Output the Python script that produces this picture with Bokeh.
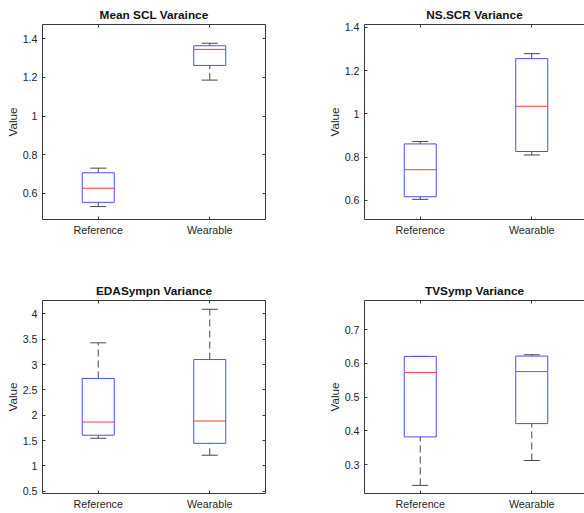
from bokeh.plotting import figure
from bokeh.layouts import row, column
from bokeh.models import Range1d, FixedTicker, LinearAxis
from bokeh.embed import file_html
from bokeh.resources import INLINE

# ---------------- data ----------------
categories = ["Reference", "Wearable"]
positions = [1, 2]

titles = ["Mean SCL Varaince", "NS.SCR Variance", "EDASympn Variance", "TVSymp Variance"]

# Mean SCL
scl_lower = [0.531, 1.186]
scl_q1 = [0.553, 1.262]
scl_med = [0.626, 1.345]
scl_q3 = [0.706, 1.364]
scl_upper = [0.730, 1.377]
scl_ylim = [0.464, 1.474]
scl_ticks = [0.6, 0.8, 1.0, 1.2, 1.4]
scl_labels = ["0.6", "0.8", "1", "1.2", "1.4"]

# NS.SCR
nsscr_lower = [0.605, 0.810]
nsscr_q1 = [0.617, 0.826]
nsscr_med = [0.742, 1.035]
nsscr_q3 = [0.861, 1.255]
nsscr_upper = [0.872, 1.278]
nsscr_ylim = [0.512, 1.4125]
nsscr_ticks = [0.6, 0.8, 1.0, 1.2, 1.4]
nsscr_labels = ["0.6", "0.8", "1", "1.2", "1.4"]

# EDASympn
eda_lower = [1.545, 1.21]
eda_q1 = [1.605, 1.445]
eda_med = [1.865, 1.885]
eda_q3 = [2.725, 3.098]
eda_upper = [3.428, 4.09]
eda_ylim = [0.455, 4.263]
eda_ticks = [0.5, 1.0, 1.5, 2.0, 2.5, 3.0, 3.5, 4.0]
eda_labels = ["0.5", "1", "1.5", "2", "2.5", "3", "3.5", "4"]

# TVSymp
tv_lower = [0.238, 0.312]
tv_q1 = [0.382, 0.4215]
tv_med = [0.573, 0.576]
tv_q3 = [0.621, 0.622]
tv_upper = [0.621, 0.626]
tv_ylim = [0.214, 0.787]
tv_ticks = [0.3, 0.4, 0.5, 0.6, 0.7]
tv_labels = ["0.3", "0.4", "0.5", "0.6", "0.7"]

# ---------------- style ----------------
FONT = "Liberation Sans"
AX_COLOR = "#3a3a3a"
TXT_COLOR = "#262626"
BOX_COLOR = "#4d4dff"
MED_COLOR = "#ff3b3b"
WHISK_COLOR = "#4a4a4a"
BOX_W = 0.287
CAP_W = 0.144
PX_PER_UNIT = 111.5


def style_axis(ax, show_labels=True):
    ax.axis_line_color = AX_COLOR
    ax.axis_line_width = 1
    ax.major_tick_line_color = AX_COLOR
    ax.major_tick_in = 3
    ax.major_tick_out = 0
    ax.minor_tick_line_color = None
    ax.major_label_text_font = FONT
    ax.major_label_text_color = TXT_COLOR
    if show_labels:
        ax.major_label_text_font_size = "10.7px"
    else:
        ax.major_label_text_font_size = "1px"
        ax.major_label_text_color = None
        ax.major_label_text_alpha = 0
        ax.major_label_standoff = 0
        ax.axis_label = None


def make_panel(title, lower, q1, med, q3, upper, ylim, yticks, ylabels, is_left, is_top):
    if is_left:
        width, mbl, mbr = 314, 42, 49
        x_end = 2.5
    else:
        width, mbl, mbr = 270, 50, 0
        x_end = 0.5 + 220 / PX_PER_UNIT
    if is_top:
        height, mbt, mbb = 256, 24, 37
    else:
        height, mbt, mbb = 257, 44, 20

    p = figure(width=width, height=height, output_backend="svg", toolbar_location=None,
               x_range=Range1d(0.5, x_end), y_range=Range1d(ylim[0], ylim[1]),
               min_border_left=mbl, min_border_right=mbr,
               min_border_top=mbt, min_border_bottom=mbb)
    p.outline_line_color = None
    p.grid.visible = False
    p.background_fill_color = "white"
    p.border_fill_color = "white"

    p.title.text = title
    p.title.align = "center"
    p.title.text_font = FONT
    p.title.text_font_size = "11.8px"
    p.title.text_font_style = "bold"
    p.title.text_color = "#111111"
    p.title.standoff = 5

    xlabel_map = {pos: cat for pos, cat in zip(positions, categories)}
    ylabel_map = {t: l for t, l in zip(yticks, ylabels)}

    p.xaxis.ticker = FixedTicker(ticks=positions)
    p.xaxis.major_label_overrides = xlabel_map
    style_axis(p.xaxis[0])
    p.xaxis.major_label_standoff = 4

    p.yaxis.ticker = FixedTicker(ticks=yticks)
    p.yaxis.major_label_overrides = ylabel_map
    style_axis(p.yaxis[0])
    p.yaxis.major_label_standoff = 5
    p.yaxis.axis_label = "Value"
    p.yaxis.axis_label_text_font = FONT
    p.yaxis.axis_label_text_font_size = "11.7px"
    p.yaxis.axis_label_text_font_style = "normal"
    p.yaxis.axis_label_text_color = TXT_COLOR
    p.yaxis.axis_label_standoff = 1

    top_ax = LinearAxis(ticker=FixedTicker(ticks=positions))
    style_axis(top_ax, show_labels=False)
    p.add_layout(top_ax, "above")
    if is_left:
        right_ax = LinearAxis(ticker=FixedTicker(ticks=yticks))
        style_axis(right_ax, show_labels=False)
        p.add_layout(right_ax, "right")

    xs = positions
    # whiskers (dashed)
    p.segment(x0=xs, y0=q3, x1=xs, y1=upper, line_color=WHISK_COLOR, line_width=1, line_dash="7 4")
    p.segment(x0=xs, y0=lower, x1=xs, y1=q1, line_color=WHISK_COLOR, line_width=1, line_dash="7 4")
    # caps
    p.segment(x0=[x - CAP_W / 2 for x in xs], y0=upper, x1=[x + CAP_W / 2 for x in xs], y1=upper,
              line_color=WHISK_COLOR, line_width=1)
    p.segment(x0=[x - CAP_W / 2 for x in xs], y0=lower, x1=[x + CAP_W / 2 for x in xs], y1=lower,
              line_color=WHISK_COLOR, line_width=1)
    # boxes
    p.vbar(x=xs, width=BOX_W, bottom=q1, top=q3, fill_color=None, line_color=BOX_COLOR, line_width=1)
    # medians
    p.segment(x0=[x - BOX_W / 2 for x in xs], y0=med, x1=[x + BOX_W / 2 for x in xs], y1=med,
              line_color=MED_COLOR, line_width=1)
    return p


p1 = make_panel(titles[0], scl_lower, scl_q1, scl_med, scl_q3, scl_upper, scl_ylim, scl_ticks, scl_labels, True, True)
p2 = make_panel(titles[1], nsscr_lower, nsscr_q1, nsscr_med, nsscr_q3, nsscr_upper, nsscr_ylim, nsscr_ticks, nsscr_labels, False, True)
p3 = make_panel(titles[2], eda_lower, eda_q1, eda_med, eda_q3, eda_upper, eda_ylim, eda_ticks, eda_labels, True, False)
p4 = make_panel(titles[3], tv_lower, tv_q1, tv_med, tv_q3, tv_upper, tv_ylim, tv_ticks, tv_labels, False, False)

layout = column(row(p1, p2), row(p3, p4))

open("out.html", "w").write(file_html(layout, INLINE))
